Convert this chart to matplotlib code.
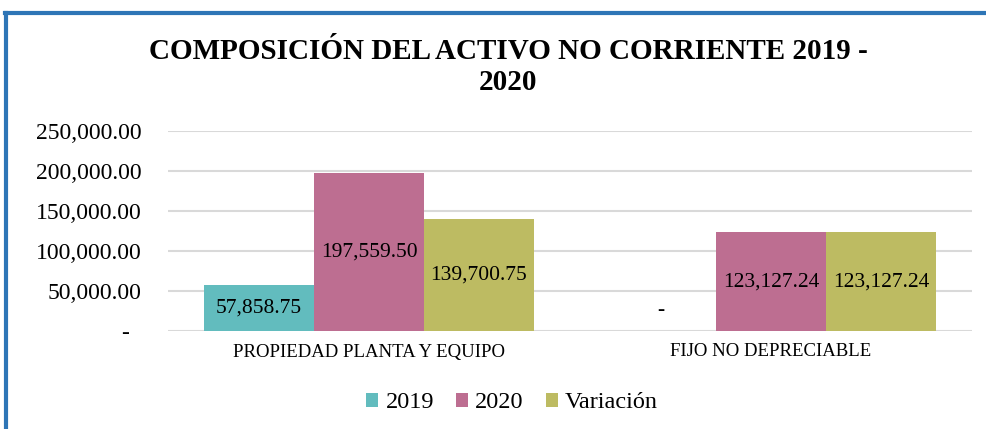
import matplotlib
matplotlib.use("Agg")
import matplotlib.pyplot as plt
from matplotlib.lines import Line2D
import numpy as np

categories = ["PROPIEDAD PLANTA Y EQUIPO", "FIJO NO DEPRECIABLE"]
series_names = ["2019", "2020", "Variación"]
values_2019 = [57858.75, 0.0]
values_2020 = [197559.50, 123127.24]
values_var = [139700.75, 123127.24]
yticks = [0, 50000, 100000, 150000, 200000, 250000]

colors = ["#62BCBE", "#BD6E91", "#BDBB62"]

plt.rcParams['font.family'] = ['Liberation Serif', 'DejaVu Serif']

fig = plt.figure(figsize=(9.86, 4.29), dpi=100)
ax = fig.add_axes([168/986, 1-331/429, (972-168)/986, (331-130.7)/429])

x = np.arange(len(categories))
w = 110/402
all_vals = [values_2019, values_2020, values_var]
for i, (vals, name, c) in enumerate(zip(all_vals, series_names, colors)):
    pos = x + (i - 1) * w
    bars = ax.bar(pos, vals, width=w, color=c, label=name, zorder=2)
    for p, v in zip(pos, vals):
        if v == 0:
            ax.annotate("-", (p, 0), xytext=(0, 15), textcoords="offset points",
                        ha="center", va="center", fontsize=15.5)
        else:
            ax.text(p, v/2, f"{v:,.2f}", ha="center", va="center", fontsize=15.5, zorder=3)

ax.set_xlim(-0.5, len(categories) - 0.5)
ax.set_ylim(0, 250000)
ax.set_yticks(yticks)
ax.set_yticklabels([("-  " if t == 0 else f"{t:,.2f}") for t in yticks], fontsize=17)
ax.set_xticks(x)
ax.set_xticklabels(categories, fontsize=13.5)
ax.tick_params(axis='y', length=0, pad=19)
ax.tick_params(axis='x', length=0, pad=9)
for s in ax.spines.values():
    s.set_visible(False)
ax.yaxis.grid(True, color="#D9D9D9", linewidth=1.5, zorder=0)
ax.set_axisbelow(True)

fig.text(508/986, 1-67/429, "COMPOSICIÓN DEL ACTIVO NO CORRIENTE 2019 -\n2020",
         ha="center", va="center", fontsize=21, fontweight="bold", linespacing=1.15)

leg = fig.legend(loc="center", bbox_to_anchor=(512/986, 1-403/429), ncol=3, frameon=False,
                 fontsize=17.5, handlelength=0.5, handleheight=0.5, handletextpad=0.3,
                 columnspacing=0.9)

border = "#2E75B6"
fig.add_artist(Line2D([5/986, 1], [1-13/429, 1-13/429], color=border, linewidth=3,
                      transform=fig.transFigure))
fig.add_artist(Line2D([6/986, 6/986], [0, 1-13/429], color=border, linewidth=3,
                      transform=fig.transFigure))

fig.savefig("out.png", dpi=100)
